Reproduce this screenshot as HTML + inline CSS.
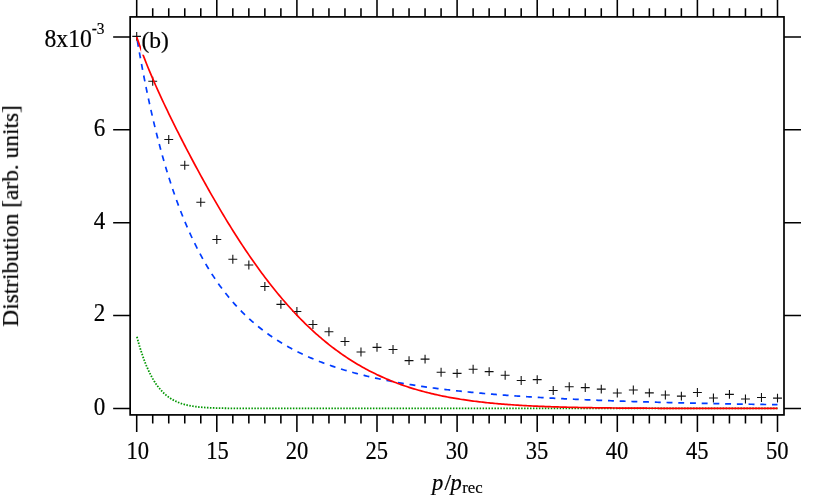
<!DOCTYPE html>
<html><head><meta charset="utf-8"><title>chart</title><style>html,body{margin:0;padding:0;background:#fff;width:830px;height:498px;overflow:hidden}body{font-family:"Liberation Serif",serif}</style></head><body>
<svg width="830" height="498" viewBox="0 0 830 498" style="display:block;position:absolute;left:0;top:0">
<rect width="830" height="498" fill="#fff"/>
<path d="M132.25 36.40H141.15M136.70 31.95V40.85M148.27 81.30H157.17M152.72 76.85V85.75M164.29 139.45H173.19M168.74 135.00V143.90M180.31 165.30H189.21M184.76 160.85V169.75M196.33 202.20H205.23M200.78 197.75V206.65M212.35 239.55H221.25M216.80 235.10V244.00M228.37 259.25H237.27M232.82 254.80V263.70M244.39 265.00H253.29M248.84 260.55V269.45M260.41 286.45H269.31M264.86 282.00V290.90M276.43 304.35H285.33M280.88 299.90V308.80M292.45 311.50H301.35M296.90 307.05V315.95M308.47 324.50H317.37M312.92 320.05V328.95M324.49 331.75H333.39M328.94 327.30V336.20M340.51 341.50H349.41M344.96 337.05V345.95M356.53 352.05H365.43M360.98 347.60V356.50M372.55 347.40H381.45M377.00 342.95V351.85M388.57 349.50H397.47M393.02 345.05V353.95M404.59 360.65H413.49M409.04 356.20V365.10M420.61 359.10H429.51M425.06 354.65V363.55M436.63 372.30H445.53M441.08 367.85V376.75M452.65 373.35H461.55M457.10 368.90V377.80M468.67 369.30H477.57M473.12 364.85V373.75M484.69 371.65H493.59M489.14 367.20V376.10M500.71 375.30H509.61M505.16 370.85V379.75M516.73 380.50H525.63M521.18 376.05V384.95M532.75 379.60H541.65M537.20 375.15V384.05M548.77 390.45H557.67M553.22 386.00V394.90M564.79 386.70H573.69M569.24 382.25V391.15M580.81 387.60H589.71M585.26 383.15V392.05M596.83 389.10H605.73M601.28 384.65V393.55M612.85 392.95H621.75M617.30 388.50V397.40M628.87 389.95H637.77M633.32 385.50V394.40M644.89 392.90H653.79M649.34 388.45V397.35M660.91 395.00H669.81M665.36 390.55V399.45M676.93 396.10H685.83M681.38 391.65V400.55M692.95 392.50H701.85M697.40 388.05V396.95M708.97 398.05H717.87M713.42 393.60V402.50M724.99 394.40H733.89M729.44 389.95V398.85M741.01 399.00H749.91M745.46 394.55V403.45M757.03 397.50H765.93M761.48 393.05V401.95M773.05 398.10H781.95M777.50 393.65V402.55" fill="none" stroke="#111" stroke-width="1.1"/>
<path d="M136.70 336.03 L138.30 341.93 L139.90 347.41 L141.51 352.48 L143.11 357.17 L144.71 361.51 L146.31 365.51 L147.91 369.21 L149.52 372.62 L151.12 375.76 L152.72 378.66 L154.32 381.31 L155.92 383.76 L157.53 386.00 L159.13 388.05 L160.73 389.93 L162.33 391.65 L163.93 393.23 L165.54 394.67 L167.14 395.98 L168.74 397.18 L170.34 398.27 L171.94 399.26 L173.55 400.17 L175.15 400.99 L176.75 401.73 L178.35 402.40 L179.95 403.02 L181.56 403.57 L183.16 404.07 L184.76 404.52 L186.36 404.93 L187.96 405.30 L189.57 405.63 L191.17 405.93 L192.77 406.20 L194.37 406.44 L195.97 406.66 L197.58 406.85 L199.18 407.03 L200.78 407.18 L202.38 407.32 L203.98 407.45 L205.59 407.56 L207.19 407.66 L208.79 407.75 L210.39 407.83 L211.99 407.90 L213.60 407.96 L215.20 408.02 L216.80 408.06 L218.40 408.11 L220.00 408.15 L221.61 408.18 L223.21 408.21 L224.81 408.24 L226.41 408.26 L228.01 408.28 L229.62 408.30 L231.22 408.32 L232.82 408.33 L234.42 408.34 L236.02 408.36 L237.63 408.36 L239.23 408.37 L240.83 408.38 L242.43 408.39 L244.03 408.39 L245.64 408.40 L247.24 408.40 L248.84 408.41 L250.44 408.41 L252.04 408.41 L253.65 408.41 L255.25 408.42 L256.85 408.42 L258.45 408.42 L260.05 408.42 L261.66 408.42 L263.26 408.42 L264.86 408.42 L266.46 408.43 L268.06 408.43 L269.67 408.43 L271.27 408.43 L272.87 408.43 L274.47 408.43 L276.07 408.43 L277.68 408.43 L279.28 408.43 L280.88 408.43 L282.48 408.43 L284.08 408.43 L285.69 408.43 L287.29 408.43 L288.89 408.43 L290.49 408.43 L292.09 408.43 L293.70 408.43 L295.30 408.43 L296.90 408.43 L298.50 408.43 L300.10 408.43 L301.71 408.43 L303.31 408.43 L304.91 408.43 L306.51 408.43 L308.11 408.43 L309.72 408.43 L311.32 408.43 L312.92 408.43 L314.52 408.43 L316.12 408.43 L317.73 408.43 L319.33 408.43 L320.93 408.43 L322.53 408.43 L324.13 408.43 L325.74 408.43 L327.34 408.43 L328.94 408.43 L330.54 408.43 L332.14 408.43 L333.75 408.43 L335.35 408.43 L336.95 408.43 L338.55 408.43 L340.15 408.43 L341.76 408.43 L343.36 408.43 L344.96 408.43 L346.56 408.43 L348.16 408.43 L349.77 408.43 L351.37 408.43 L352.97 408.43 L354.57 408.43 L356.17 408.43 L357.78 408.43 L359.38 408.43 L360.98 408.43 L362.58 408.43 L364.18 408.43 L365.79 408.43 L367.39 408.43 L368.99 408.43 L370.59 408.43 L372.19 408.43 L373.80 408.43 L375.40 408.43 L377.00 408.43 L378.60 408.43 L380.20 408.43 L381.81 408.43 L383.41 408.43 L385.01 408.43 L386.61 408.43 L388.21 408.43 L389.82 408.43 L391.42 408.43 L393.02 408.43 L394.62 408.43 L396.22 408.43 L397.83 408.43 L399.43 408.43 L401.03 408.43 L402.63 408.43 L404.23 408.43 L405.84 408.43 L407.44 408.43 L409.04 408.43 L410.64 408.43 L412.24 408.43 L413.85 408.43 L415.45 408.43 L417.05 408.43 L418.65 408.43 L420.25 408.43 L421.86 408.43 L423.46 408.43 L425.06 408.43 L426.66 408.43 L428.26 408.43 L429.87 408.43 L431.47 408.43 L433.07 408.43 L434.67 408.43 L436.27 408.43 L437.88 408.43 L439.48 408.43 L441.08 408.43 L442.68 408.43 L444.28 408.43 L445.89 408.43 L447.49 408.43 L449.09 408.43 L450.69 408.43 L452.29 408.43 L453.90 408.43 L455.50 408.43 L457.10 408.43 L458.70 408.43 L460.30 408.43 L461.91 408.43 L463.51 408.43 L465.11 408.43 L466.71 408.43 L468.31 408.43 L469.92 408.43 L471.52 408.43 L473.12 408.43 L474.72 408.43 L476.32 408.43 L477.93 408.43 L479.53 408.43 L481.13 408.43 L482.73 408.43 L484.33 408.43 L485.94 408.43 L487.54 408.43 L489.14 408.43 L490.74 408.43 L492.34 408.43 L493.95 408.43 L495.55 408.43 L497.15 408.43 L498.75 408.43 L500.35 408.43 L501.96 408.43 L503.56 408.43 L505.16 408.43 L506.76 408.43 L508.36 408.43 L509.97 408.43 L511.57 408.43 L513.17 408.43 L514.77 408.43 L516.37 408.43 L517.98 408.43 L519.58 408.43 L521.18 408.43 L522.78 408.43 L524.38 408.43 L525.99 408.43 L527.59 408.43 L529.19 408.43 L530.79 408.43 L532.39 408.43 L534.00 408.43 L535.60 408.43 L537.20 408.43 L538.80 408.43 L540.40 408.43 L542.01 408.43 L543.61 408.43 L545.21 408.43 L546.81 408.43 L548.41 408.43 L550.02 408.43 L551.62 408.43 L553.22 408.43 L554.82 408.43 L556.42 408.43 L558.03 408.43 L559.63 408.43 L561.23 408.43 L562.83 408.43 L564.43 408.43 L566.04 408.43 L567.64 408.43 L569.24 408.43 L570.84 408.43 L572.44 408.43 L574.05 408.43 L575.65 408.43 L577.25 408.43 L578.85 408.43 L580.45 408.43 L582.06 408.43 L583.66 408.43 L585.26 408.43 L586.86 408.43 L588.46 408.43 L590.07 408.43 L591.67 408.43 L593.27 408.43 L594.87 408.43 L596.47 408.43 L598.08 408.43 L599.68 408.43 L601.28 408.43 L602.88 408.43 L604.48 408.43 L606.09 408.43 L607.69 408.43 L609.29 408.43 L610.89 408.43 L612.49 408.43 L614.10 408.43 L615.70 408.43 L617.30 408.43 L618.90 408.43 L620.50 408.43 L622.11 408.43 L623.71 408.43 L625.31 408.43 L626.91 408.43 L628.51 408.43 L630.12 408.43 L631.72 408.43 L633.32 408.43 L634.92 408.43 L636.52 408.43 L638.13 408.43 L639.73 408.43 L641.33 408.43 L642.93 408.43 L644.53 408.43 L646.14 408.43 L647.74 408.43 L649.34 408.43 L650.94 408.43 L652.54 408.43 L654.15 408.43 L655.75 408.43 L657.35 408.43 L658.95 408.43 L660.55 408.43 L662.16 408.43 L663.76 408.43 L665.36 408.43 L666.96 408.43 L668.56 408.43 L670.17 408.43 L671.77 408.43 L673.37 408.43 L674.97 408.43 L676.57 408.43 L678.18 408.43 L679.78 408.43 L681.38 408.43 L682.98 408.43 L684.58 408.43 L686.19 408.43 L687.79 408.43 L689.39 408.43 L690.99 408.43 L692.59 408.43 L694.20 408.43 L695.80 408.43 L697.40 408.43 L699.00 408.43 L700.60 408.43 L702.21 408.43 L703.81 408.43 L705.41 408.43 L707.01 408.43 L708.61 408.43 L710.22 408.43 L711.82 408.43 L713.42 408.43 L715.02 408.43 L716.62 408.43 L718.23 408.43 L719.83 408.43 L721.43 408.43 L723.03 408.43 L724.63 408.43 L726.24 408.43 L727.84 408.43 L729.44 408.43 L731.04 408.43 L732.64 408.43 L734.25 408.43 L735.85 408.43 L737.45 408.43 L739.05 408.43 L740.65 408.43 L742.26 408.43 L743.86 408.43 L745.46 408.43 L747.06 408.43 L748.66 408.43 L750.27 408.43 L751.87 408.43 L753.47 408.43 L755.07 408.43 L756.67 408.43 L758.28 408.43 L759.88 408.43 L761.48 408.43 L763.08 408.43 L764.68 408.43 L766.29 408.43 L767.89 408.43 L769.49 408.43 L771.09 408.43 L772.69 408.43 L774.30 408.43 L775.90 408.43 L777.50 408.43" fill="none" stroke="#009600" stroke-width="1.8" stroke-dasharray="1.5 1.464" stroke-dashoffset="2.126"/>
<path d="M136.70 36.91 L138.30 46.25 L139.90 55.28 L141.51 64.02 L143.11 72.48 L144.71 80.66 L146.31 88.58 L147.91 96.25 L149.52 103.68 L151.12 110.88 L152.72 117.86 L154.32 124.63 L155.92 131.18 L157.53 137.54 L159.13 143.71 L160.73 149.70 L162.33 155.50 L163.93 161.14 L165.54 166.61 L167.14 171.93 L168.74 177.09 L170.34 182.11 L171.94 186.98 L173.55 191.71 L175.15 196.32 L176.75 200.79 L178.35 205.15 L179.95 209.38 L181.56 213.50 L183.16 217.50 L184.76 221.40 L186.36 225.20 L187.96 228.89 L189.57 232.49 L191.17 235.99 L192.77 239.40 L194.37 242.72 L195.97 245.96 L197.58 249.12 L199.18 252.19 L200.78 255.19 L202.38 258.11 L203.98 260.96 L205.59 263.74 L207.19 266.45 L208.79 269.10 L210.39 271.68 L211.99 274.19 L213.60 276.65 L215.20 279.05 L216.80 281.39 L218.40 283.68 L220.00 285.91 L221.61 288.09 L223.21 290.22 L224.81 292.30 L226.41 294.33 L228.01 296.32 L229.62 298.26 L231.22 300.16 L232.82 302.01 L234.42 303.82 L236.02 305.60 L237.63 307.33 L239.23 309.02 L240.83 310.68 L242.43 312.30 L244.03 313.89 L245.64 315.44 L247.24 316.96 L248.84 318.45 L250.44 319.91 L252.04 321.33 L253.65 322.73 L255.25 324.09 L256.85 325.43 L258.45 326.74 L260.05 328.02 L261.66 329.28 L263.26 330.51 L264.86 331.71 L266.46 332.89 L268.06 334.05 L269.67 335.19 L271.27 336.30 L272.87 337.39 L274.47 338.46 L276.07 339.50 L277.68 340.53 L279.28 341.54 L280.88 342.53 L282.48 343.49 L284.08 344.44 L285.69 345.38 L287.29 346.29 L288.89 347.19 L290.49 348.07 L292.09 348.93 L293.70 349.78 L295.30 350.61 L296.90 351.43 L298.50 352.23 L300.10 353.01 L301.71 353.79 L303.31 354.54 L304.91 355.29 L306.51 356.02 L308.11 356.74 L309.72 357.44 L311.32 358.13 L312.92 358.81 L314.52 359.48 L316.12 360.14 L317.73 360.78 L319.33 361.42 L320.93 362.04 L322.53 362.65 L324.13 363.25 L325.74 363.84 L327.34 364.43 L328.94 365.00 L330.54 365.56 L332.14 366.11 L333.75 366.65 L335.35 367.19 L336.95 367.71 L338.55 368.23 L340.15 368.74 L341.76 369.23 L343.36 369.73 L344.96 370.21 L346.56 370.68 L348.16 371.15 L349.77 371.61 L351.37 372.06 L352.97 372.51 L354.57 372.95 L356.17 373.38 L357.78 373.80 L359.38 374.22 L360.98 374.63 L362.58 375.04 L364.18 375.43 L365.79 375.83 L367.39 376.21 L368.99 376.59 L370.59 376.97 L372.19 377.33 L373.80 377.70 L375.40 378.05 L377.00 378.41 L378.60 378.75 L380.20 379.09 L381.81 379.43 L383.41 379.76 L385.01 380.09 L386.61 380.41 L388.21 380.73 L389.82 381.04 L391.42 381.35 L393.02 381.65 L394.62 381.95 L396.22 382.24 L397.83 382.53 L399.43 382.82 L401.03 383.10 L402.63 383.38 L404.23 383.65 L405.84 383.92 L407.44 384.19 L409.04 384.45 L410.64 384.71 L412.24 384.96 L413.85 385.21 L415.45 385.46 L417.05 385.70 L418.65 385.95 L420.25 386.18 L421.86 386.42 L423.46 386.65 L425.06 386.88 L426.66 387.10 L428.26 387.32 L429.87 387.54 L431.47 387.76 L433.07 387.97 L434.67 388.18 L436.27 388.39 L437.88 388.59 L439.48 388.79 L441.08 388.99 L442.68 389.19 L444.28 389.38 L445.89 389.57 L447.49 389.76 L449.09 389.95 L450.69 390.13 L452.29 390.31 L453.90 390.49 L455.50 390.67 L457.10 390.85 L458.70 391.02 L460.30 391.19 L461.91 391.36 L463.51 391.52 L465.11 391.69 L466.71 391.85 L468.31 392.01 L469.92 392.16 L471.52 392.32 L473.12 392.47 L474.72 392.63 L476.32 392.78 L477.93 392.92 L479.53 393.07 L481.13 393.21 L482.73 393.36 L484.33 393.50 L485.94 393.64 L487.54 393.77 L489.14 393.91 L490.74 394.04 L492.34 394.18 L493.95 394.31 L495.55 394.44 L497.15 394.57 L498.75 394.69 L500.35 394.82 L501.96 394.94 L503.56 395.06 L505.16 395.18 L506.76 395.30 L508.36 395.42 L509.97 395.54 L511.57 395.65 L513.17 395.76 L514.77 395.88 L516.37 395.99 L517.98 396.10 L519.58 396.21 L521.18 396.31 L522.78 396.42 L524.38 396.52 L525.99 396.63 L527.59 396.73 L529.19 396.83 L530.79 396.93 L532.39 397.03 L534.00 397.13 L535.60 397.22 L537.20 397.32 L538.80 397.41 L540.40 397.51 L542.01 397.60 L543.61 397.69 L545.21 397.78 L546.81 397.87 L548.41 397.96 L550.02 398.05 L551.62 398.13 L553.22 398.22 L554.82 398.30 L556.42 398.39 L558.03 398.47 L559.63 398.55 L561.23 398.63 L562.83 398.72 L564.43 398.79 L566.04 398.87 L567.64 398.95 L569.24 399.03 L570.84 399.10 L572.44 399.18 L574.05 399.25 L575.65 399.33 L577.25 399.40 L578.85 399.47 L580.45 399.54 L582.06 399.61 L583.66 399.68 L585.26 399.75 L586.86 399.82 L588.46 399.89 L590.07 399.96 L591.67 400.02 L593.27 400.09 L594.87 400.15 L596.47 400.22 L598.08 400.28 L599.68 400.35 L601.28 400.41 L602.88 400.47 L604.48 400.53 L606.09 400.59 L607.69 400.65 L609.29 400.71 L610.89 400.77 L612.49 400.83 L614.10 400.89 L615.70 400.94 L617.30 401.00 L618.90 401.06 L620.50 401.11 L622.11 401.17 L623.71 401.22 L625.31 401.27 L626.91 401.33 L628.51 401.38 L630.12 401.43 L631.72 401.48 L633.32 401.53 L634.92 401.59 L636.52 401.64 L638.13 401.69 L639.73 401.73 L641.33 401.78 L642.93 401.83 L644.53 401.88 L646.14 401.93 L647.74 401.97 L649.34 402.02 L650.94 402.07 L652.54 402.11 L654.15 402.16 L655.75 402.20 L657.35 402.25 L658.95 402.29 L660.55 402.33 L662.16 402.38 L663.76 402.42 L665.36 402.46 L666.96 402.51 L668.56 402.55 L670.17 402.59 L671.77 402.63 L673.37 402.67 L674.97 402.71 L676.57 402.75 L678.18 402.79 L679.78 402.83 L681.38 402.87 L682.98 402.90 L684.58 402.94 L686.19 402.98 L687.79 403.02 L689.39 403.05 L690.99 403.09 L692.59 403.13 L694.20 403.16 L695.80 403.20 L697.40 403.23 L699.00 403.27 L700.60 403.30 L702.21 403.34 L703.81 403.37 L705.41 403.41 L707.01 403.44 L708.61 403.47 L710.22 403.51 L711.82 403.54 L713.42 403.57 L715.02 403.60 L716.62 403.64 L718.23 403.67 L719.83 403.70 L721.43 403.73 L723.03 403.76 L724.63 403.79 L726.24 403.82 L727.84 403.85 L729.44 403.88 L731.04 403.91 L732.64 403.94 L734.25 403.97 L735.85 404.00 L737.45 404.03 L739.05 404.05 L740.65 404.08 L742.26 404.11 L743.86 404.14 L745.46 404.16 L747.06 404.19 L748.66 404.22 L750.27 404.25 L751.87 404.27 L753.47 404.30 L755.07 404.32 L756.67 404.35 L758.28 404.38 L759.88 404.40 L761.48 404.43 L763.08 404.45 L764.68 404.48 L766.29 404.50 L767.89 404.52 L769.49 404.55 L771.09 404.57 L772.69 404.60 L774.30 404.62 L775.90 404.64 L777.50 404.67" fill="none" stroke="#003cff" stroke-width="1.7" stroke-dasharray="5.92 5.80" stroke-dashoffset="7.67"/>
<path d="M136.70 36.91 L138.30 41.64 L139.90 46.22 L141.51 50.65 L143.11 54.95 L144.71 59.13 L146.31 63.21 L147.91 67.20 L149.52 71.10 L151.12 74.92 L152.72 78.68 L154.32 82.37 L155.92 86.00 L157.53 89.59 L159.13 93.12 L160.73 96.62 L162.33 100.07 L163.93 103.49 L165.54 106.87 L167.14 110.22 L168.74 113.54 L170.34 116.84 L171.94 120.11 L173.55 123.36 L175.15 126.58 L176.75 129.78 L178.35 132.96 L179.95 136.12 L181.56 139.26 L183.16 142.39 L184.76 145.49 L186.36 148.58 L187.96 151.65 L189.57 154.70 L191.17 157.73 L192.77 160.75 L194.37 163.75 L195.97 166.73 L197.58 169.70 L199.18 172.65 L200.78 175.58 L202.38 178.50 L203.98 181.39 L205.59 184.27 L207.19 187.14 L208.79 189.98 L210.39 192.81 L211.99 195.62 L213.60 198.41 L215.20 201.18 L216.80 203.94 L218.40 206.67 L220.00 209.39 L221.61 212.09 L223.21 214.77 L224.81 217.43 L226.41 220.07 L228.01 222.69 L229.62 225.29 L231.22 227.87 L232.82 230.43 L234.42 232.97 L236.02 235.49 L237.63 237.99 L239.23 240.46 L240.83 242.92 L242.43 245.36 L244.03 247.77 L245.64 250.17 L247.24 252.54 L248.84 254.89 L250.44 257.22 L252.04 259.52 L253.65 261.81 L255.25 264.07 L256.85 266.32 L258.45 268.54 L260.05 270.73 L261.66 272.91 L263.26 275.06 L264.86 277.20 L266.46 279.30 L268.06 281.39 L269.67 283.46 L271.27 285.50 L272.87 287.52 L274.47 289.52 L276.07 291.49 L277.68 293.45 L279.28 295.38 L280.88 297.29 L282.48 299.18 L284.08 301.04 L285.69 302.88 L287.29 304.70 L288.89 306.50 L290.49 308.28 L292.09 310.03 L293.70 311.77 L295.30 313.48 L296.90 315.17 L298.50 316.84 L300.10 318.48 L301.71 320.11 L303.31 321.71 L304.91 323.29 L306.51 324.85 L308.11 326.39 L309.72 327.91 L311.32 329.41 L312.92 330.89 L314.52 332.34 L316.12 333.78 L317.73 335.20 L319.33 336.59 L320.93 337.97 L322.53 339.32 L324.13 340.66 L325.74 341.98 L327.34 343.27 L328.94 344.55 L330.54 345.81 L332.14 347.05 L333.75 348.27 L335.35 349.47 L336.95 350.65 L338.55 351.81 L340.15 352.96 L341.76 354.09 L343.36 355.20 L344.96 356.29 L346.56 357.36 L348.16 358.42 L349.77 359.46 L351.37 360.48 L352.97 361.48 L354.57 362.47 L356.17 363.44 L357.78 364.40 L359.38 365.34 L360.98 366.26 L362.58 367.16 L364.18 368.06 L365.79 368.93 L367.39 369.79 L368.99 370.63 L370.59 371.46 L372.19 372.28 L373.80 373.08 L375.40 373.86 L377.00 374.64 L378.60 375.39 L380.20 376.13 L381.81 376.86 L383.41 377.58 L385.01 378.28 L386.61 378.97 L388.21 379.65 L389.82 380.31 L391.42 380.96 L393.02 381.60 L394.62 382.22 L396.22 382.83 L397.83 383.44 L399.43 384.02 L401.03 384.60 L402.63 385.17 L404.23 385.72 L405.84 386.27 L407.44 386.80 L409.04 387.32 L410.64 387.83 L412.24 388.33 L413.85 388.82 L415.45 389.30 L417.05 389.77 L418.65 390.23 L420.25 390.68 L421.86 391.12 L423.46 391.55 L425.06 391.97 L426.66 392.39 L428.26 392.79 L429.87 393.19 L431.47 393.57 L433.07 393.95 L434.67 394.32 L436.27 394.68 L437.88 395.04 L439.48 395.38 L441.08 395.72 L442.68 396.05 L444.28 396.37 L445.89 396.69 L447.49 397.00 L449.09 397.30 L450.69 397.59 L452.29 397.88 L453.90 398.16 L455.50 398.44 L457.10 398.70 L458.70 398.96 L460.30 399.22 L461.91 399.47 L463.51 399.71 L465.11 399.95 L466.71 400.18 L468.31 400.41 L469.92 400.63 L471.52 400.84 L473.12 401.05 L474.72 401.26 L476.32 401.46 L477.93 401.65 L479.53 401.84 L481.13 402.03 L482.73 402.21 L484.33 402.39 L485.94 402.56 L487.54 402.73 L489.14 402.89 L490.74 403.05 L492.34 403.20 L493.95 403.35 L495.55 403.50 L497.15 403.64 L498.75 403.78 L500.35 403.92 L501.96 404.05 L503.56 404.18 L505.16 404.30 L506.76 404.43 L508.36 404.55 L509.97 404.66 L511.57 404.77 L513.17 404.88 L514.77 404.99 L516.37 405.09 L517.98 405.19 L519.58 405.29 L521.18 405.39 L522.78 405.48 L524.38 405.57 L525.99 405.66 L527.59 405.74 L529.19 405.83 L530.79 405.91 L532.39 405.98 L534.00 406.06 L535.60 406.13 L537.20 406.21 L538.80 406.28 L540.40 406.34 L542.01 406.41 L543.61 406.47 L545.21 406.54 L546.81 406.60 L548.41 406.65 L550.02 406.71 L551.62 406.77 L553.22 406.82 L554.82 406.87 L556.42 406.92 L558.03 406.97 L559.63 407.02 L561.23 407.06 L562.83 407.11 L564.43 407.15 L566.04 407.19 L567.64 407.24 L569.24 407.27 L570.84 407.31 L572.44 407.35 L574.05 407.39 L575.65 407.42 L577.25 407.45 L578.85 407.49 L580.45 407.52 L582.06 407.55 L583.66 407.58 L585.26 407.61 L586.86 407.64 L588.46 407.66 L590.07 407.69 L591.67 407.72 L593.27 407.74 L594.87 407.76 L596.47 407.79 L598.08 407.81 L599.68 407.83 L601.28 407.85 L602.88 407.87 L604.48 407.89 L606.09 407.91 L607.69 407.93 L609.29 407.95 L610.89 407.96 L612.49 407.98 L614.10 408.00 L615.70 408.01 L617.30 408.03 L618.90 408.04 L620.50 408.05 L622.11 408.07 L623.71 408.08 L625.31 408.09 L626.91 408.11 L628.51 408.12 L630.12 408.13 L631.72 408.14 L633.32 408.15 L634.92 408.16 L636.52 408.17 L638.13 408.18 L639.73 408.19 L641.33 408.20 L642.93 408.21 L644.53 408.22 L646.14 408.22 L647.74 408.23 L649.34 408.24 L650.94 408.25 L652.54 408.25 L654.15 408.26 L655.75 408.27 L657.35 408.27 L658.95 408.28 L660.55 408.28 L662.16 408.29 L663.76 408.29 L665.36 408.30 L666.96 408.31 L668.56 408.31 L670.17 408.31 L671.77 408.32 L673.37 408.32 L674.97 408.33 L676.57 408.33 L678.18 408.34 L679.78 408.34 L681.38 408.34 L682.98 408.35 L684.58 408.35 L686.19 408.35 L687.79 408.36 L689.39 408.36 L690.99 408.36 L692.59 408.36 L694.20 408.37 L695.80 408.37 L697.40 408.37 L699.00 408.37 L700.60 408.38 L702.21 408.38 L703.81 408.38 L705.41 408.38 L707.01 408.38 L708.61 408.39 L710.22 408.39 L711.82 408.39 L713.42 408.39 L715.02 408.39 L716.62 408.39 L718.23 408.40 L719.83 408.40 L721.43 408.40 L723.03 408.40 L724.63 408.40 L726.24 408.40 L727.84 408.40 L729.44 408.40 L731.04 408.41 L732.64 408.41 L734.25 408.41 L735.85 408.41 L737.45 408.41 L739.05 408.41 L740.65 408.41 L742.26 408.41 L743.86 408.41 L745.46 408.41 L747.06 408.41 L748.66 408.42 L750.27 408.42 L751.87 408.42 L753.47 408.42 L755.07 408.42 L756.67 408.42 L758.28 408.42 L759.88 408.42 L761.48 408.42 L763.08 408.42 L764.68 408.42 L766.29 408.42 L767.89 408.42 L769.49 408.42 L771.09 408.42 L772.69 408.42 L774.30 408.42 L775.90 408.42 L777.50 408.42" fill="none" stroke="#ff0000" stroke-width="1.7"/>
<rect x="141.1" y="30" width="28" height="24.7" fill="#fff"/>
<rect x="130.15" y="16.90" width="653.85" height="398.00" fill="none" stroke="#000" stroke-width="1.70"/>
<path d="M136.70 414.90v17.00M136.70 16.90v-17.00M152.72 414.90v8.60M152.72 16.90v-8.60M168.74 414.90v8.60M168.74 16.90v-8.60M184.76 414.90v8.60M184.76 16.90v-8.60M200.78 414.90v8.60M200.78 16.90v-8.60M216.80 414.90v17.00M216.80 16.90v-17.00M232.82 414.90v8.60M232.82 16.90v-8.60M248.84 414.90v8.60M248.84 16.90v-8.60M264.86 414.90v8.60M264.86 16.90v-8.60M280.88 414.90v8.60M280.88 16.90v-8.60M296.90 414.90v17.00M296.90 16.90v-17.00M312.92 414.90v8.60M312.92 16.90v-8.60M328.94 414.90v8.60M328.94 16.90v-8.60M344.96 414.90v8.60M344.96 16.90v-8.60M360.98 414.90v8.60M360.98 16.90v-8.60M377.00 414.90v17.00M377.00 16.90v-17.00M393.02 414.90v8.60M393.02 16.90v-8.60M409.04 414.90v8.60M409.04 16.90v-8.60M425.06 414.90v8.60M425.06 16.90v-8.60M441.08 414.90v8.60M441.08 16.90v-8.60M457.10 414.90v17.00M457.10 16.90v-17.00M473.12 414.90v8.60M473.12 16.90v-8.60M489.14 414.90v8.60M489.14 16.90v-8.60M505.16 414.90v8.60M505.16 16.90v-8.60M521.18 414.90v8.60M521.18 16.90v-8.60M537.20 414.90v17.00M537.20 16.90v-17.00M553.22 414.90v8.60M553.22 16.90v-8.60M569.24 414.90v8.60M569.24 16.90v-8.60M585.26 414.90v8.60M585.26 16.90v-8.60M601.28 414.90v8.60M601.28 16.90v-8.60M617.30 414.90v17.00M617.30 16.90v-17.00M633.32 414.90v8.60M633.32 16.90v-8.60M649.34 414.90v8.60M649.34 16.90v-8.60M665.36 414.90v8.60M665.36 16.90v-8.60M681.38 414.90v8.60M681.38 16.90v-8.60M697.40 414.90v17.00M697.40 16.90v-17.00M713.42 414.90v8.60M713.42 16.90v-8.60M729.44 414.90v8.60M729.44 16.90v-8.60M745.46 414.90v8.60M745.46 16.90v-8.60M761.48 414.90v8.60M761.48 16.90v-8.60M777.50 414.90v17.00M777.50 16.90v-17.00M130.15 408.43h-17.00M784.00 408.43h17.00M130.15 315.55h-17.00M784.00 315.55h17.00M130.15 222.67h-17.00M784.00 222.67h17.00M130.15 129.79h-17.00M784.00 129.79h17.00M130.15 36.91h-17.00M784.00 36.91h17.00" fill="none" stroke="#000" stroke-width="1.55"/>
<g font-family="'Liberation Serif', serif" fill="#000" stroke="#000" stroke-width="0.2" opacity="0.999">
<text transform="translate(155.2 48.2) scale(1.05 1)" font-size="22.4" text-anchor="middle">(b)</text>
<text transform="translate(137.70 458.7) scale(0.928 1)" font-size="24.3" text-anchor="middle">10</text>
<text transform="translate(217.40 458.7) scale(0.928 1)" font-size="24.3" text-anchor="middle">15</text>
<text transform="translate(297.00 458.7) scale(0.928 1)" font-size="24.3" text-anchor="middle">20</text>
<text transform="translate(376.80 458.7) scale(0.928 1)" font-size="24.3" text-anchor="middle">25</text>
<text transform="translate(456.90 458.7) scale(0.928 1)" font-size="24.3" text-anchor="middle">30</text>
<text transform="translate(537.00 458.7) scale(0.928 1)" font-size="24.3" text-anchor="middle">35</text>
<text transform="translate(617.10 458.7) scale(0.928 1)" font-size="24.3" text-anchor="middle">40</text>
<text transform="translate(697.20 458.7) scale(0.928 1)" font-size="24.3" text-anchor="middle">45</text>
<text transform="translate(777.30 458.7) scale(0.928 1)" font-size="24.3" text-anchor="middle">50</text>
<text transform="translate(105.3 414.93) scale(0.95 1)" font-size="24.3" text-anchor="end">0</text>
<text transform="translate(105.3 321.45) scale(0.95 1)" font-size="24.3" text-anchor="end">2</text>
<text transform="translate(105.3 228.57) scale(0.95 1)" font-size="24.3" text-anchor="end">4</text>
<text transform="translate(105.3 135.69) scale(0.95 1)" font-size="24.3" text-anchor="end">6</text>
<text transform="translate(44.5 47.45) scale(0.975 1)" font-size="24.3">8x10<tspan font-size="15.8" dy="-13.35" dx="-0.15">-3</tspan></text>
<text transform="translate(18.1 326.7) rotate(-90)" font-size="22.6" textLength="221.6" lengthAdjust="spacingAndGlyphs">Distribution [arb. units]</text>
<text x="432.1" y="489.6" font-size="22.5"><tspan font-style="italic">p</tspan><tspan dx="1.2" font-size="24">/</tspan><tspan font-style="italic" dx="-0.6">p</tspan><tspan font-size="16.7" dy="3.8" dx="0.4">rec</tspan></text>
</g>
</svg>
</body></html>
